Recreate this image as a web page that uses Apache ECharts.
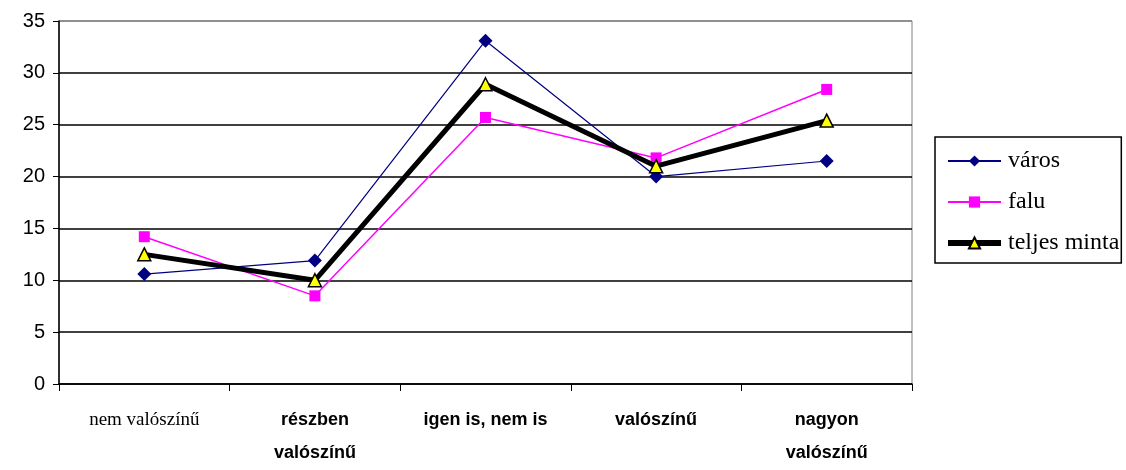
<!DOCTYPE html>
<html>
<head>
<meta charset="utf-8">
<script src="https://cdn.jsdelivr.net/npm/echarts@6/dist/echarts.min.js"></script>
<style>
  html, body { margin: 0; padding: 0; background: #fff; }
  #chart { width: 1126px; height: 470px; }
</style>
</head>
<body>
<div id="chart"></div>
<script>
// category labels (first one is set in serif in the original)
const categories = ['nem valószínű', 'részben\nvalószínű', 'igen is, nem is', 'valószínű', 'nagyon\nvalószínű']
const varos = [10.6, 11.9, 33.1, 20.0, 21.5]
const falu = [14.2, 8.5, 25.7, 21.8, 28.4]
const teljes = [12.5, 10.0, 28.9, 21.0, 25.4]
const yTicks = [0, 5, 10, 15, 20, 25, 30, 35]

const chart = echarts.init(document.getElementById('chart'))

const catData = categories.map((c, i) => {
  if (i === 0) {
    return { value: c, textStyle: { fontFamily: 'Liberation Serif', fontWeight: 'normal', fontSize: 19 } }
  }
  return { value: c }
})

chart.setOption({
  backgroundColor: '#fff',
  animation: false,
  grid: {
    left: 59,
    right: 214,
    top: 21,
    bottom: 86,
    show: true,
    borderColor: '#808080',
    borderWidth: 1
  },
  legend: {
    orient: 'vertical',
    left: 935,
    top: 137,
    borderColor: '#000',
    borderWidth: 1.5,
    padding: [12, 2, 8, 10],
    itemWidth: 53,
    itemHeight: 14,
    itemGap: 17,
    textStyle: {
      fontFamily: 'Liberation Serif',
      fontSize: 24,
      color: '#000',
      padding: [0, 0, 0, 2]
    },
    data: [
      { name: 'város', lineStyle: { width: 2 } },
      { name: 'falu', lineStyle: { width: 2 } },
      { name: 'teljes minta', lineStyle: { width: 6 } }
    ]
  },
  xAxis: {
    type: 'category',
    data: catData,
    boundaryGap: true,
    axisLine: { lineStyle: { color: '#000', width: 1.5 } },
    axisTick: { show: true, length: 7, interval: 0, lineStyle: { color: '#000' } },
    axisLabel: {
      interval: 0,
      margin: 20,
      color: '#000',
      fontFamily: 'Liberation Sans Narrow, Liberation Sans, Arial',
      fontWeight: 'bold',
      fontSize: 18,
      lineHeight: 33
    }
  },
  yAxis: {
    type: 'value',
    min: yTicks[0],
    max: yTicks[yTicks.length - 1],
    interval: 5,
    axisLine: { show: true, lineStyle: { color: '#000', width: 1.5 } },
    axisTick: { show: true, length: 6, lineStyle: { color: '#000' } },
    axisLabel: {
      color: '#000',
      fontFamily: 'Liberation Sans, Arial',
      fontSize: 20,
      margin: 14
    },
    splitLine: {
      lineStyle: {
        color: ['#000', '#000', '#000', '#000', '#000', '#000', '#000', '#808080'],
        width: 1.5
      }
    }
  },
  series: [
    {
      name: 'város',
      type: 'line',
      data: varos,
      symbol: 'diamond',
      symbolSize: 14,
      itemStyle: { color: '#000080' },
      lineStyle: { color: '#000080', width: 1.2 },
      z: 3
    },
    {
      name: 'falu',
      type: 'line',
      data: falu,
      symbol: 'rect',
      symbolSize: 11,
      itemStyle: { color: '#ff00ff' },
      lineStyle: { color: '#ff00ff', width: 1.5 },
      z: 2
    },
    {
      name: 'teljes minta',
      type: 'line',
      data: teljes,
      symbol: 'triangle',
      symbolSize: 13,
      itemStyle: { color: '#ffff00', borderColor: '#000', borderWidth: 1.5 },
      lineStyle: { color: '#000', width: 5 },
      z: 4
    }
  ]
})
</script>
</body>
</html>
